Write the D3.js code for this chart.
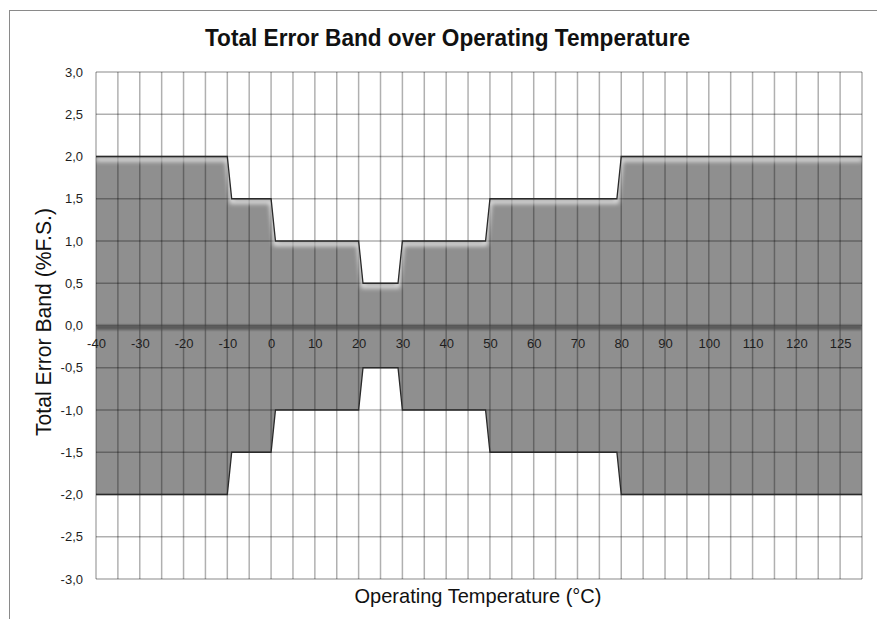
<!DOCTYPE html>
<html>
<head>
<meta charset="utf-8">
<script src="https://cdn.jsdelivr.net/npm/d3@7"></script>
<style>
  body { margin: 0; background: #fff; }
  svg text { font-family: "Liberation Sans", Arial, sans-serif; }
</style>
</head>
<body>
<script>
// band corners, temperature in degC and limits in %F.S.
var temps      = [-40, -10, -9, 0, 1, 20, 21, 29, 30, 49, 50, 79, 80, 135];
var upperBand  = [2, 2, 1.5, 1.5, 1, 1, 0.5, 0.5, 1, 1, 1.5, 1.5, 2, 2];
var lowerBand  = [-2, -2, -1.5, -1.5, -1, -1, -0.5, -0.5, -1, -1, -1.5, -1.5, -2, -2];

// x labels sit on every other gridline, the last one reads 125
var xTickValues = [-40, -30, -20, -10, 0, 10, 20, 30, 40, 50, 60, 70, 80, 90, 100, 110, 120, 130];
var xTickLabels = ["-40", "-30", "-20", "-10", "0", "10", "20", "30", "40", "50", "60", "70", "80", "90", "100", "110", "120", "125"];
var yTickValues = [3, 2.5, 2, 1.5, 1, 0.5, 0, -0.5, -1, -1.5, -2, -2.5, -3];

var width = 877,
    height = 619,
    plotL = 96, plotR = 862, plotT = 72, plotB = 579;

var svg = d3.select("body")
   .append("svg")
   .attr("width", width)
   .attr("height", height);

var defs = svg.append("defs");
defs.append("filter").attr("id", "soft")
   .attr("x", "-5%").attr("y", "-50%").attr("width", "110%").attr("height", "200%")
  .append("feGaussianBlur").attr("stdDeviation", 2);
defs.append("filter").attr("id", "soft0")
   .attr("filterUnits", "userSpaceOnUse")
   .attr("x", plotL).attr("y", 300).attr("width", plotR - plotL).attr("height", 60)
  .append("feGaussianBlur").attr("stdDeviation", 1.2);

// outer chart frame (runs off the right and bottom of the picture)
svg.append("rect")
   .attr("x", 9.5).attr("y", 10.5)
   .attr("width", 900).attr("height", 700)
   .attr("fill", "none")
   .attr("stroke", "#8a8a8a");

var x = d3.scaleLinear().domain([-40, 135]).range([plotL, plotR]);
var y = d3.scaleLinear().domain([-3, 3]).range([plotB, plotT]);

var comma = d3.formatLocale({ decimal: ",", thousands: ".", grouping: [3], currency: ["", ""], minus: "-" }).format(".1f");

// grid
var grid = svg.append("g").attr("stroke", "#000").attr("stroke-opacity", 0.31).attr("stroke-width", 1.5);
grid.selectAll("line.v")
  .data(d3.range(-40, 136, 5))
 .enter().append("line").attr("class", "v")
  .attr("x1", x).attr("x2", x)
  .attr("y1", plotT).attr("y2", plotB);
grid.selectAll("line.h")
  .data(yTickValues)
 .enter().append("line").attr("class", "h")
  .attr("x1", plotL).attr("x2", plotR)
  .attr("y1", y).attr("y2", y);

var pts = temps.map(function(t, i) { return { t: t, hi: upperBand[i], lo: lowerBand[i] }; });

var area = d3.area()
  .x(function(d) { return x(d.t); })
  .y0(function(d) { return y(d.lo); })
  .y1(function(d) { return y(d.hi); });

defs.append("clipPath").attr("id", "bandClip")
  .append("path").attr("d", area(pts));

svg.append("path")
  .attr("d", area(pts))
  .attr("fill", "#000")
  .attr("fill-opacity", 0.44);

var hiLine = d3.line().x(function(d) { return x(d.t); }).y(function(d) { return y(d.hi); });
var loLine = d3.line().x(function(d) { return x(d.t); }).y(function(d) { return y(d.lo); });

// light glow just under the upper edge
svg.append("g").attr("clip-path", "url(#bandClip)")
  .append("path")
  .attr("d", hiLine(pts))
  .attr("transform", "translate(0,3)")
  .attr("fill", "none")
  .attr("stroke", "#fff")
  .attr("stroke-opacity", 0.75)
  .attr("stroke-width", 4)
  .attr("filter", "url(#soft)");

// dark line on zero
svg.append("line")
  .attr("x1", plotL).attr("x2", plotR)
  .attr("y1", y(0) + 2).attr("y2", y(0) + 2)
  .attr("stroke", "#4a4a4a")
  .attr("stroke-opacity", 0.75)
  .attr("stroke-width", 5)
  .attr("filter", "url(#soft0)");

svg.append("path").attr("d", hiLine(pts))
  .attr("fill", "none").attr("stroke", "#2a2a2a").attr("stroke-width", 1.3);
svg.append("path").attr("d", loLine(pts))
  .attr("fill", "none").attr("stroke", "#2a2a2a").attr("stroke-width", 1.3);

// axes
var xAxis = svg.append("g")
  .attr("transform", "translate(0," + (y(0) + 9) + ")")
  .call(d3.axisBottom(x).tickValues(xTickValues)
     .tickFormat(function(d, i) { return xTickLabels[i]; })
     .tickSize(0).tickPadding(4));
xAxis.select(".domain").remove();
xAxis.selectAll("text").attr("fill", "#1e1e1e").style("font-size", "13px");

var yAxis = svg.append("g")
  .attr("transform", "translate(" + plotL + ",0)")
  .call(d3.axisLeft(y).tickValues(yTickValues).tickFormat(comma).tickSize(0).tickPadding(13));
yAxis.select(".domain").remove();
yAxis.selectAll("text").attr("fill", "#1e1e1e").style("font-size", "13px");

// titles
svg.append("text")
  .attr("x", 447.5).attr("y", 46)
  .attr("text-anchor", "middle")
  .attr("textLength", 485).attr("lengthAdjust", "spacingAndGlyphs")
  .style("font-size", "23px").style("font-weight", "bold")
  .attr("fill", "#111")
  .text("Total Error Band over Operating Temperature");

svg.append("text")
  .attr("x", 478).attr("y", 603)
  .attr("text-anchor", "middle")
  .attr("textLength", 247).attr("lengthAdjust", "spacingAndGlyphs")
  .style("font-size", "21px")
  .attr("fill", "#111")
  .text("Operating Temperature (\u00B0C)");

svg.append("text")
  .attr("transform", "translate(51,322) rotate(-90)")
  .attr("text-anchor", "middle")
  .attr("textLength", 228).attr("lengthAdjust", "spacingAndGlyphs")
  .style("font-size", "21.5px")
  .attr("fill", "#111")
  .text("Total Error Band (%F.S.)");
</script>
</body>
</html>
